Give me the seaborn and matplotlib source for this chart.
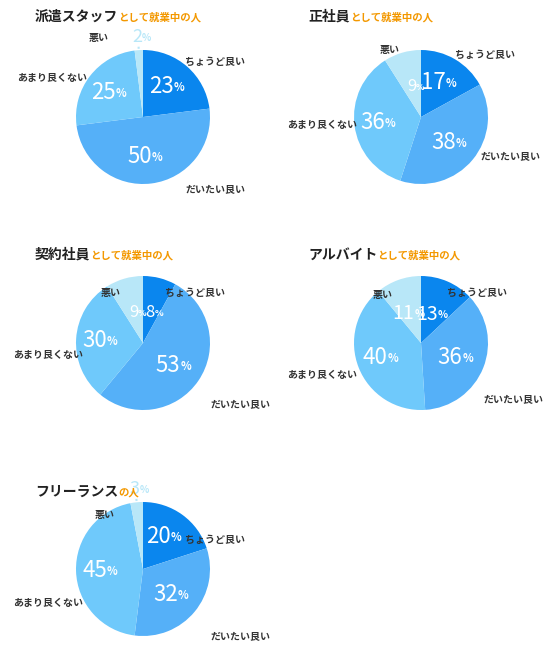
import numpy as np
import matplotlib
matplotlib.use("Agg")
import matplotlib.pyplot as plt
import seaborn as sns

sns.set_theme(style="white")
plt.rcParams['font.family'] = ['Noto Sans CJK JP', 'DejaVu Sans']

# data
categories = ["ちょうど良い", "だいたい良い", "あまり良くない", "悪い"]
titles = ["派遣スタッフ", "正社員", "契約社員", "アルバイト", "フリーランス"]
suffixes = ["として就業中の人", "として就業中の人", "として就業中の人", "として就業中の人", "の人"]
haken = [23, 50, 25, 2]
seishain = [17, 38, 36, 9]
keiyaku = [8, 53, 30, 9]
arubaito = [13, 36, 40, 11]
freelance = [20, 32, 45, 3]
series = [haken, seishain, keiyaku, arubaito, freelance]

colors = ["#0a86ee", "#55b0f8", "#6fc9fb", "#b8e7f8"]
W, H = 547, 664

# layout (pixels, image coords)
centers = [(143, 117), (421, 117), (143, 343), (421, 343), (143, 569)]
title_pos = [(35, 10), (308, 10), (35, 248), (308, 248), (35, 485)]
label_off = [
    [(72, -55), (72, 73), (-91, -39), (-44, -79)],
    [(64, -62), (89, 40), (-99, 8), (-31, -67)],
    [(52, -50), (97, 62), (-95, 12), (-32, -50)],
    [(56, -50), (92, 57), (-99, 32), (-38, -48)],
    [(72, -29), (97, 68), (-95, 34), (-38, -54)],
]
R = 67

fig = plt.figure(figsize=(W / 100, H / 100), dpi=100)
ax = fig.add_axes([0, 0, 1, 1])
ax.set_xlim(0, W)
ax.set_ylim(0, H)
ax.set_aspect('equal')
ax.axis('off')

for i, vals in enumerate(series):
    cx, cy = centers[i]
    cy = H - cy
    wedges, _ = ax.pie(vals, colors=colors, startangle=90, counterclock=False,
                       center=(cx, cy), radius=R, frame=True,
                       wedgeprops=dict(linewidth=0))
    # percent labels
    start = 90.0
    total = sum(vals)
    for j, v in enumerate(vals):
        span = v / total * 360
        mid = np.deg2rad(start - span / 2)
        start -= span
        if v < 5:
            r, col = R * 1.2, "#b8e7f8"
            x0, y0 = cx + R * 1.02 * np.cos(mid), cy + R * 1.02 * np.sin(mid)
            ax.plot([x0, cx + R * 1.1 * np.cos(mid)], [y0, cy + R * 1.1 * np.sin(mid)],
                    ls=':', color=col, lw=1.5)
            nfs, pfs = 13, 7
        elif v < 15:
            r, col = R * 0.47, "white"
            nfs, pfs = 12 if v < 10 else 14, 6.5 if v < 10 else 7.5
        else:
            r, col = R * 0.6, "white"
            nfs, pfs = 16, 8
        tx, ty = cx + r * np.cos(mid), cy + r * np.sin(mid)
        ax.text(tx + 4, ty, str(v), color=col, fontsize=nfs, ha='right', va='center')
        ax.text(tx + 4, ty - 1, "%", color=col, fontsize=pfs, ha='left', va='center',
                fontweight='bold')
    # category labels
    for j, cat in enumerate(categories):
        dx, dy = label_off[i][j]
        ax.text(cx + dx, cy - dy, cat, fontsize=7.2, color="#333333",
                ha='center', va='center', fontweight='bold')
    # titles
    tx, ty = title_pos[i]
    t = ax.text(tx, H - ty, titles[i], fontsize=10, fontweight='bold',
                color="#222222", ha='left', va='top')
    ax.annotate(suffixes[i], xy=(1, 0.08), xycoords=t, fontsize=7.5,
                fontweight='bold', color="#f39800", ha='left', va='bottom')

ax.set_xlim(0, W)
ax.set_ylim(0, H)
fig.savefig("out.png", dpi=100)
